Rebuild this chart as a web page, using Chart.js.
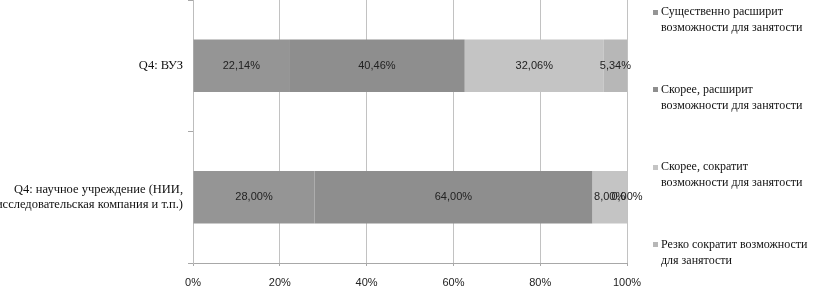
<!DOCTYPE html>
<html>
<head>
<meta charset="utf-8">
<script src="https://cdn.jsdelivr.net/npm/chart.js@4/dist/chart.umd.min.js"></script>
<style>
  html, body { margin: 0; padding: 0; background: #fff; }
  #wrap { width: 813px; height: 291px; position: relative; overflow: hidden; }
  canvas { display: block; }
</style>
</head>
<body>
<div id="wrap"><canvas id="c" width="813" height="291"></canvas></div>
<script>
// Categories (one bar each) and the four answer series, in percent
const categories = [
  'Q4: ВУЗ',
  ['Q4: научное учреждение (НИИ,', 'исследовательская компания и т.п.)']
];
const seriesNames = [
  ['Существенно расширит', 'возможности для занятости'],
  ['Скорее, расширит', 'возможности для занятости'],
  ['Скорее, сократит', 'возможности для занятости'],
  ['Резко сократит возможности', 'для занятости']
];
const greatlyExpand = [22.14, 28.00];
const ratherExpand  = [40.46, 64.00];
const ratherReduce  = [32.06, 8.00];
const sharplyReduce = [5.34, 0.00];
const tickValues = [0, 20, 40, 60, 80, 100];

const seriesValues = [greatlyExpand, ratherExpand, ratherReduce, sharplyReduce];
const seriesColors = ['#959595', '#8e8e8e', '#c4c4c4', '#b7b7b7'];

const SERIF = '"Liberation Serif", "Times New Roman", serif';
const SANS = '"Liberation Sans", Arial, sans-serif';

const fmt = v => v.toFixed(2).replace('.', ',') + '%';

// Percent value written in the middle of every stacked segment
const segmentLabels = {
  id: 'segmentLabels',
  afterDatasetsDraw(chart) {
    const ctx = chart.ctx;
    ctx.save();
    ctx.font = '11px ' + SANS;
    ctx.fillStyle = '#222';
    ctx.textAlign = 'center';
    ctx.textBaseline = 'middle';
    chart.data.datasets.forEach((ds, i) => {
      const meta = chart.getDatasetMeta(i);
      meta.data.forEach((bar, j) => {
        const x = (bar.x + bar.base) / 2;
        ctx.fillText(fmt(ds.data[j]), x, bar.y);
      });
    });
    ctx.restore();
  }
};

// Legend at the right: small square marker plus two-line caption
const sideLegend = {
  id: 'sideLegend',
  afterDraw(chart) {
    const o = chart.options.plugins.sideLegend;
    const ctx = chart.ctx;
    ctx.save();
    ctx.font = '12px ' + SERIF;
    ctx.textAlign = 'left';
    ctx.textBaseline = 'middle';
    chart.data.datasets.forEach((ds, i) => {
      const y0 = o.top + i * o.step;
      ctx.fillStyle = ds.backgroundColor;
      ctx.fillRect(o.boxX, Math.round(y0 - o.box / 2), o.box, o.box);
      ctx.fillStyle = '#111';
      ds.legendLines.forEach((t, k) => ctx.fillText(t, o.textX, y0 + k * o.lineHeight));
    });
    ctx.restore();
  }
};

new Chart(document.getElementById('c'), {
  type: 'bar',
  data: {
    labels: categories,
    datasets: seriesValues.map((vals, i) => ({
      label: seriesNames[i].join(' '),
      legendLines: seriesNames[i],
      data: vals,
      backgroundColor: seriesColors[i],
      borderWidth: 0,
      barPercentage: 0.4,
      categoryPercentage: 1.0
    }))
  },
  options: {
    indexAxis: 'y',
    responsive: false,
    animation: false,
    devicePixelRatio: 1,
    layout: { padding: { left: 0, right: 186, top: 0, bottom: 0 } },
    plugins: {
      legend: { display: false },
      tooltip: { enabled: false },
      sideLegend: { boxX: 653, box: 5, textX: 661, top: 12, step: 77.5, lineHeight: 16 }
    },
    scales: {
      x: {
        type: 'linear',
        stacked: true,
        min: 0,
        max: 100,
        afterBuildTicks: s => { s.ticks = tickValues.map(v => ({ value: v })); },
        afterFit: s => { s.height = 28; },
        ticks: {
          callback: v => v + '%',
          font: { family: SANS, size: 11 },
          color: '#222',
          padding: 10,
          maxRotation: 0
        },
        grid: { color: '#c2c2c2', lineWidth: 1, drawTicks: true, tickLength: 3, tickColor: '#a8a8a8' },
        border: { display: true, color: '#a8a8a8', width: 1 }
      },
      y: {
        stacked: true,
        afterFit: s => { s.width = 193; s.paddingTop = 0; s.paddingBottom = 0; },
        ticks: {
          font: { family: SERIF, size: 12.5, lineHeight: 1.25 },
          color: '#111',
          padding: 5
        },
        grid: { offset: true, drawOnChartArea: false, drawTicks: true, tickLength: 5, tickColor: '#a8a8a8' },
        border: { display: true, color: '#bdbdbd', width: 1 }
      }
    }
  },
  plugins: [segmentLabels, sideLegend]
});
</script>
</body>
</html>
